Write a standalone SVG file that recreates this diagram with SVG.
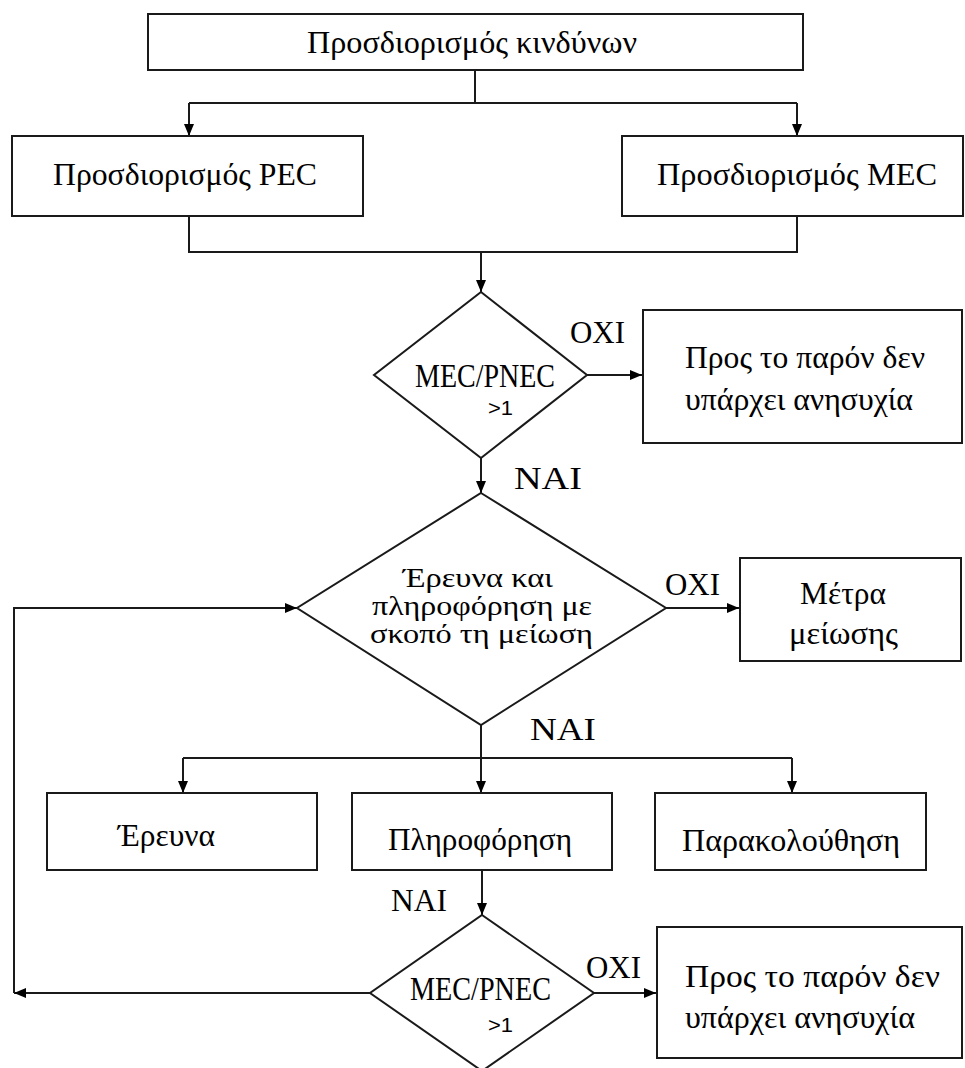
<svg xmlns="http://www.w3.org/2000/svg" width="965" height="1068" viewBox="0 0 965 1068">
<style>
.box{fill:#fff;stroke:#1a1a1a;stroke-width:2}
.dia{fill:#fff;stroke:#1a1a1a;stroke-width:2}
.ln{fill:none;stroke:#1a1a1a;stroke-width:2}
.t{font-family:"Liberation Serif","Times New Roman",serif;font-size:31px;fill:#000}
.d{font-family:"Liberation Serif","Times New Roman",serif;font-size:33px;fill:#000}
.m{font-family:"Liberation Serif","Times New Roman",serif;font-size:27px;fill:#000}
.s{font-family:"Liberation Sans",Arial,sans-serif;font-size:21px;fill:#000}
</style>
<defs>
<marker id="ah" markerUnits="userSpaceOnUse" markerWidth="14" markerHeight="12" refX="12" refY="5" orient="auto">
<path d="M0,0 L12,5 L0,10 z" fill="#000"/>
</marker>
</defs>
<rect width="965" height="1068" fill="#fff"/>
<g id="connectors">
<path class="ln" d="M475,70 V103"/>
<path class="ln" d="M189,103 H797"/>
<path class="ln" d="M189,103 V136" marker-end="url(#ah)"/>
<path class="ln" d="M797,103 V136" marker-end="url(#ah)"/>
<path class="ln" d="M189,216 V252 H797 V216"/>
<path class="ln" d="M481,252 V292" marker-end="url(#ah)"/>
<path class="ln" d="M587,375 H642" marker-end="url(#ah)"/>
<path class="ln" d="M481,458 V493" marker-end="url(#ah)"/>
<path class="ln" d="M666,608 H739" marker-end="url(#ah)"/>
<path class="ln" d="M481,725 V793" marker-end="url(#ah)"/>
<path class="ln" d="M183,758 H792"/>
<path class="ln" d="M183,758 V793" marker-end="url(#ah)"/>
<path class="ln" d="M792,758 V793" marker-end="url(#ah)"/>
<path class="ln" d="M482,870 V915" marker-end="url(#ah)"/>
<path class="ln" d="M594,993 H656" marker-end="url(#ah)"/>
<path class="ln" d="M370,993 H14" marker-end="url(#ah)"/>
<path class="ln" d="M14,993 V608 H297" marker-end="url(#ah)"/>
<text class="t" x="570" y="343" textLength="55" lengthAdjust="spacingAndGlyphs">OXI</text>
<text class="t" x="514" y="489" textLength="68" lengthAdjust="spacingAndGlyphs">NAI</text>
<text class="t" x="665" y="595" textLength="55" lengthAdjust="spacingAndGlyphs">OXI</text>
<text class="t" x="530" y="740" textLength="66" lengthAdjust="spacingAndGlyphs">NAI</text>
<text class="t" x="391" y="911" textLength="56" lengthAdjust="spacingAndGlyphs">NAI</text>
<text class="t" x="586" y="978" textLength="55" lengthAdjust="spacingAndGlyphs">OXI</text>
</g>
<g id="n-kindynoi">
<rect class="box" x="148" y="14" width="655" height="56"/>
<text class="t" x="307" y="53" textLength="330" lengthAdjust="spacingAndGlyphs">Προσδιορισμός κινδύνων</text>
</g>
<g id="n-pec">
<rect class="box" x="12" y="136" width="351" height="80"/>
<text class="t" x="53" y="185" textLength="264" lengthAdjust="spacingAndGlyphs">Προσδιορισμός PEC</text>
</g>
<g id="n-mec">
<rect class="box" x="622" y="136" width="341" height="80"/>
<text class="t" x="657" y="185" textLength="280" lengthAdjust="spacingAndGlyphs">Προσδιορισμός MEC</text>
</g>
<g id="n-d1">
<polygon class="dia" points="481,292 587,375 481,458 374,375"/>
<text class="d" x="415" y="387" textLength="140" lengthAdjust="spacingAndGlyphs">MEC/PNEC</text>
<text class="s" x="488" y="415" textLength="25" lengthAdjust="spacingAndGlyphs">&gt;1</text>
</g>
<g id="n-noconcern1">
<rect class="box" x="643" y="310" width="319" height="133"/>
<text class="t" x="685" y="368" textLength="240" lengthAdjust="spacingAndGlyphs">Προς το παρόν δεν</text>
<text class="t" x="685" y="410" textLength="228" lengthAdjust="spacingAndGlyphs">υπάρχει ανησυχία</text>
</g>
<g id="n-d2">
<polygon class="dia" points="481,493 666,608 481,725 297,608"/>
<text class="m" x="403" y="587" textLength="150" lengthAdjust="spacingAndGlyphs">Έρευνα και</text>
<text class="m" x="372" y="615" textLength="220" lengthAdjust="spacingAndGlyphs">πληροφόρηση με</text>
<text class="m" x="370" y="643" textLength="223" lengthAdjust="spacingAndGlyphs">σκοπό τη μείωση</text>
</g>
<g id="n-metra">
<rect class="box" x="740" y="558" width="221" height="103"/>
<text class="t" x="800" y="604" textLength="86" lengthAdjust="spacingAndGlyphs">Μέτρα</text>
<text class="t" x="789" y="644" textLength="109" lengthAdjust="spacingAndGlyphs">μείωσης</text>
</g>
<g id="n-erevna">
<rect class="box" x="47" y="793" width="270" height="77"/>
<text class="t" x="118" y="846" textLength="97" lengthAdjust="spacingAndGlyphs">Έρευνα</text>
</g>
<g id="n-pliroforisi">
<rect class="box" x="352" y="793" width="260" height="77"/>
<text class="t" x="388" y="850" textLength="184" lengthAdjust="spacingAndGlyphs">Πληροφόρηση</text>
</g>
<g id="n-parakolouthisi">
<rect class="box" x="655" y="793" width="271" height="77"/>
<text class="t" x="682" y="851" textLength="218" lengthAdjust="spacingAndGlyphs">Παρακολούθηση</text>
</g>
<g id="n-d3">
<polygon class="dia" points="482,915 594,993 482,1071 370,993"/>
<text class="d" x="410" y="1000" textLength="141" lengthAdjust="spacingAndGlyphs">MEC/PNEC</text>
<text class="s" x="488" y="1032" textLength="25" lengthAdjust="spacingAndGlyphs">&gt;1</text>
</g>
<g id="n-noconcern2">
<rect class="box" x="657" y="927" width="305" height="131"/>
<text class="t" x="685" y="987" textLength="255" lengthAdjust="spacingAndGlyphs">Προς το παρόν δεν</text>
<text class="t" x="685" y="1028" textLength="230" lengthAdjust="spacingAndGlyphs">υπάρχει ανησυχία</text>
</g>
</svg>
